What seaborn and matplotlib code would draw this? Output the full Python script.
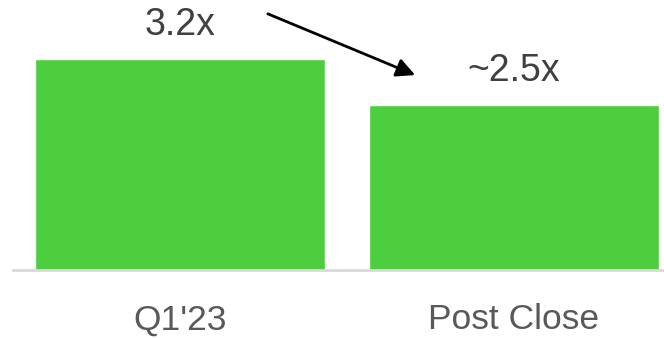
import matplotlib
matplotlib.use("Agg")
import matplotlib.pyplot as plt
import seaborn as sns
import pandas as pd

categories = ["Q1'23", "Post Close"]
values = [3.2, 2.5]
value_labels = ["3.2x", "~2.5x"]

sns.set_style("white")
plt.rcParams['font.family'] = ['Liberation Sans', 'DejaVu Sans']

df = pd.DataFrame({"cat": categories, "val": values})

fig = plt.figure(figsize=(6.64, 3.38), dpi=100)
ax = fig.add_axes([13/664, 68/338, 651/664, 270/338])
sns.barplot(data=df, x="cat", y="val", color="#4CCE3F", saturation=1,
            width=0.868, ax=ax)

ax.set_xlim(-0.5, 1.449)
ax.set_ylim(0, 4.1)
ax.set_xlabel("")
ax.set_ylabel("")
ax.set_yticks([])
for s in ["top", "right", "left"]:
    ax.spines[s].set_visible(False)
ax.spines["bottom"].set_color("#d9d9d9")
ax.spines["bottom"].set_linewidth(2)
ax.tick_params(axis="x", length=0, pad=24, labelsize=25.5, labelcolor="#595959")

for i, (v, lab) in enumerate(zip(values, value_labels)):
    ax.annotate(lab, xy=(i, v), xytext=(0, 25), textcoords="offset points",
                ha="center", va="center", fontsize=27, color="#404040")

ax.annotate("", xy=(0.704, 2.96), xytext=(0.263, 3.89),
            arrowprops=dict(arrowstyle="-|>", lw=2, color="black",
                            mutation_scale=28, shrinkA=0, shrinkB=0))

fig.savefig("out.png", dpi=100)
